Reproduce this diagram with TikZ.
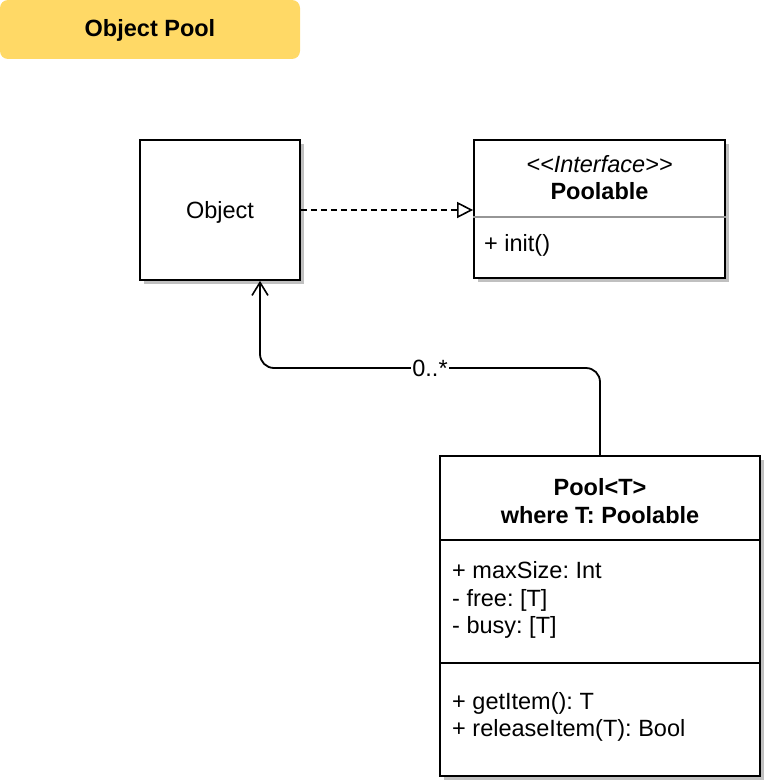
\documentclass[tikz,border=0pt]{standalone}
\usepackage{fontspec}
\setmainfont{Liberation Sans}
\usetikzlibrary{arrows.meta,shadows,calc}
\definecolor{titlefill}{RGB}{255,217,102}
\definecolor{shadowgray}{RGB}{192,192,192}
\definecolor{divgray}{RGB}{150,150,150}
\tikzset{
  umlbox/.style={draw=black, line width=1.8pt, fill=white, rectangle, inner sep=0pt,
    drop shadow={shadow xshift=3.5pt, shadow yshift=-3.5pt, fill=shadowgray, opacity=1}},
  txt/.style={inner sep=0pt, text height=17pt, text depth=0pt, font=\fontsize{23.5}{28}\selectfont},
  ltxt/.style={txt, anchor=west, align=left},
  conn/.style={line width=1.8pt, draw=black},
}
\begin{document}
\frenchspacing
\begin{tikzpicture}[x=1pt,y=-1pt]
\useasboundingbox (0,0) rectangle (765,784);
% title
\node[fill=titlefill, rounded corners=8pt, minimum width=300pt, minimum height=59pt, inner sep=0pt] (title) at (150,29.5) {};
\node[txt, font=\fontsize{23.5}{26}\selectfont\bfseries] (titletext) at (150,28.5) {Object Pool};
% Object
\node[umlbox, minimum width=160pt, minimum height=140pt] (obj) at (220,210) {};
\node[txt] (objname) at (220,209.5) {Object};
% Poolable
\node[umlbox, minimum width=251pt, minimum height=138pt] (poolable) at (599.5,209) {};
\node[txt, font=\fontsize{23.5}{28}\selectfont\itshape] (stereo) at (599.5,163.5) {<{}<Interface>{}>};
\node[txt, font=\fontsize{23.5}{28}\selectfont\bfseries] (pname) at (599.5,191) {Poolable};
\draw[draw=divgray, line width=1.2pt] (poolable.west |- 0,217) -- (poolable.east |- 0,217);
\node[ltxt] (init) at (484,242.5) {+ init()};
% Pool
\node[umlbox, minimum width=320pt, minimum height=320pt] (pool) at (600,616) {};
\node[txt, font=\fontsize{23.5}{28}\selectfont\bfseries] (pooltitle1) at (600,486.5) {Pool<T>};
\node[txt, font=\fontsize{23.5}{28}\selectfont\bfseries] (pooltitle2) at (600,515) {where T: Poolable};
\draw[line width=1.8pt] (pool.west |- 0,540) -- (pool.east |- 0,540);
\draw[line width=1.8pt] (pool.west |- 0,663) -- (pool.east |- 0,663);
\node[ltxt] (a1) at (452,570) {+ maxSize: Int};
\node[ltxt] (a2) at (452,597.5) {- free: [T]};
\node[ltxt] (a3) at (452,624.5) {- busy: [T]};
\node[ltxt] (m1) at (452,700.5) {+ getItem(): T};
\node[ltxt] (m2) at (452,727.5) {+ releaseItem(T): Bool};
% realization
\draw[conn, dash pattern=on 6pt off 4pt, -{Triangle[open, length=16pt, width=16pt, line width=1.6pt, fill=white]}] (obj.east) -- (poolable.west |- obj.east);
% association
\coordinate (mid) at (430,368);
\draw[conn, rounded corners=14pt, -{Straight Barb[length=13pt, width=16pt, line width=1.6pt]}] (pool.north) |- (mid) -| ([xshift=40pt]obj.south);
\node[txt, fill=white, inner xsep=1pt, inner ysep=2pt] (mult) at (430,367.5) {0..*};
\end{tikzpicture}
\end{document}
